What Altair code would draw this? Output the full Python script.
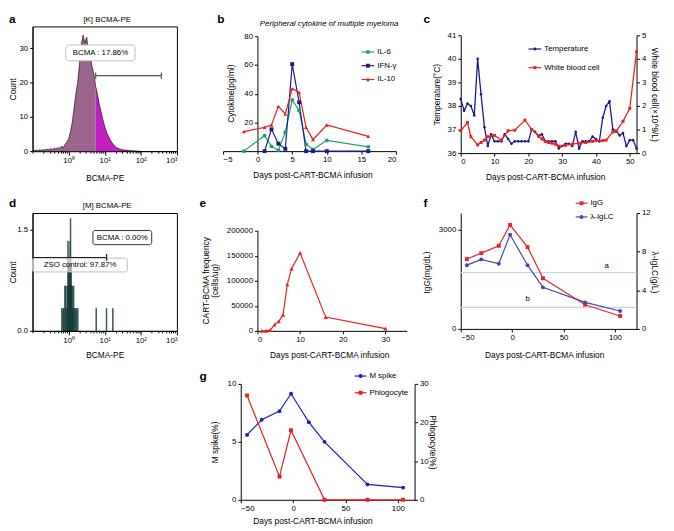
import altair as alt
import pandas as pd

FONT = "Liberation Sans"
FS = 8
TFS = 8.5

# ---------------- data ----------------
# a: [K] BCMA-PE histogram (bin centre as log10 intensity, count)
A_LOG = [-1.00, -0.95, -0.90, -0.85, -0.80, -0.75, -0.70, -0.65, -0.60, -0.55,
         -0.50, -0.45, -0.40, -0.35, -0.30, -0.25, -0.20, -0.15, -0.10, -0.05,
         0.00, 0.05, 0.10, 0.15, 0.20, 0.25, 0.30, 0.35, 0.40, 0.45,
         0.50, 0.55, 0.60, 0.65, 0.70, 0.75, 0.80, 0.85, 0.90, 0.95,
         1.00, 1.05, 1.10, 1.15, 1.20, 1.25, 1.30, 1.35, 1.40, 1.45,
         1.50, 1.55, 1.60, 1.65, 1.70, 1.75, 1.80, 1.85, 1.90, 1.95, 2.00]
A_CNT = [0.0, 0.2, 0.3, 0.1, 0.4, 0.2, 0.5, 0.3, 0.6, 0.4,
         0.7, 0.5, 0.9, 0.6, 1.0, 0.8, 1.4, 1.1, 1.9, 2.7,
         3.6, 5.6, 8.4, 12.5, 16.8, 19.9, 25.5, 31.0, 33.8, 31.5,
         33.2, 28.8, 27.2, 24.6, 22.4, 18.8, 16.5, 13.6, 11.4, 9.1,
         7.2, 5.6, 4.4, 3.3, 2.5, 1.8, 1.3, 0.9, 0.7, 0.5,
         0.4, 0.3, 0.3, 0.2, 0.2, 0.1, 0.1, 0.1, 0.0, 0.0, 0.0]
A_SPLIT_LOG = 0.75
A_GATE = [5.6, 370.0]
A_GATE_Y = 22.0

# d: [M] BCMA-PE histogram (intensity, count)
D_VAL = [0.65, 0.70, 0.74, 0.79, 0.83, 0.87, 0.91, 0.96, 0.99, 1.03,
         1.07, 1.10, 1.13, 1.17, 1.21, 1.26, 1.31, 1.38, 1.45, 1.55,
         1.65, 1.80, 5.8, 11.2, 16.8]
D_CNT = [0.333, 0.333, 0.333, 0.667, 0.667, 0.333, 0.667, 1.333, 1.0, 1.0,
         0.667, 1.333, 1.667, 1.0, 0.667, 0.667, 0.333, 0.667, 0.333, 0.333,
         0.333, 0.333, 0.333, 0.333, 0.333]
D_GATE = [0.1, 11.3]
D_GATE_Y = 1.09

# b: cytokines
B_NAMES = ["IL-6", "IFN-γ", "IL-10"]
IL6_D = [-2, 1, 2, 3, 4, 5, 6, 7, 8, 10, 16]
IL6_V = [0, 10.8, 3.3, 0.7, 13.2, 35.6, 28.3, 4.8, 1.1, 7.5, 3.0]
IFN_D = [1, 2, 3, 4, 5, 6, 7, 8, 10, 16]
IFN_V = [0, 15.2, 5.2, 1.6, 60.6, 34.0, 0, 0, 0, 0]
IL10_D = [-2, 1, 2, 3, 4, 5, 6, 7, 8, 10, 16]
IL10_V = [13.6, 16.6, 18.2, 31.2, 25.9, 43.5, 40.9, 16.6, 8.0, 18.2, 10.3]

# c: temperature and white blood cells
C_NAMES = ["Temperature", "White blood cell"]
T_DAYS = list(range(0, 53))
T_VAL = [38.3, 37.8, 38.1, 38.0, 37.6, 40.0, 38.5, 37.1, 36.3, 36.8,
         36.5, 36.5, 36.5, 36.8, 36.6, 36.4, 36.5, 36.5, 36.5, 36.5,
         36.5, 37.0, 36.9, 36.7, 36.8, 36.5, 36.5, 36.5, 36.5, 36.2,
         36.3, 36.4, 36.4, 36.3, 36.9, 36.2, 36.5, 36.5, 36.5, 36.7,
         36.6, 36.5, 37.5, 38.0, 38.2, 37.0, 36.95, 36.75, 36.85, 36.3,
         36.55, 36.55, 36.2]
W_DAYS = [0, 2, 3, 5, 6, 7, 8, 10, 12, 14, 16, 19, 21, 23, 24, 25, 26, 27, 28, 29,
          31, 33, 35, 37, 39, 40, 42, 43, 45, 46, 48, 50, 52]
W_VAL = [0.95, 1.3, 0.7, 0.35, 0.45, 0.55, 0.7, 0.75, 0.55, 0.95, 0.97, 1.4, 1.0, 0.75,
         0.6, 0.5, 0.45, 0.42, 0.38, 0.3, 0.33, 0.38, 0.42, 0.45, 0.5, 0.53, 0.53, 0.55,
         0.9, 0.92, 1.35, 1.9, 4.3]

# e: CART-BCMA frequency
E_DAYS = [1, 2, 3, 4, 5, 6, 7, 8, 10, 16, 30]
E_VAL = [0, 0, 1500, 12400, 19000, 32000, 92800, 124000, 155500, 27500, 4500]

# f: IgG and lambda light chain
F_NAMES = ["IgG", "λ-IgLC"]
F_DAYS = [-44, -30, -13, -2, 15, 30, 71, 105]
IGG = [2110, 2290, 2510, 3140, 2470, 1530, 730, 390]
LAMBDA = [6.6, 7.2, 6.75, 9.75, 6.6, 4.3, 2.75, 1.85]
F_REF = [1700, 650]
F_REF_LABELS = ["a", "b"]
F_REF_LABEL_X = [92, 15]
F_REF_LABEL_Y = [1900, 900]

# g: M spike and phlogocyte
G_NAMES = ["M spike", "Phlogocyte"]
G_DAYS = [-44, -30, -13, -2, 15, 30, 71, 105]
MSPIKE = [5.6, 6.9, 7.65, 9.15, 6.7, 5.0, 1.33, 1.05]
P_DAYS = [-44, -13, -2, 30, 71, 105]
PHLOG = [27, 6, 18, 0, 0, 0]

XTITLE = "Days post-CART-BCMA infusion"


# ---------------- helpers ----------------
def one():
    return alt.Data(values=[{"k": 0}])


def label(x, y, s, size=FS, weight="normal", style="normal", align="center",
          baseline="middle", angle=0):
    kw = dict(text=s, font=FONT, fontSize=size, fontWeight=weight, fontStyle=style,
              align=align, baseline=baseline, color="black")
    if angle:
        kw["angle"] = angle
    return alt.Chart(one()).mark_text(**kw).encode(x=alt.value(x), y=alt.value(y))


def letter(x, y, s):
    return label(x, y, s, size=12, weight="bold", align="left", baseline="alphabetic")


def legend(names, colors, shapes, x0, y0, dy, size=16, line_len=13):
    df = pd.DataFrame({"series": names, "ly": [y0 + i * dy for i in range(len(names))]})
    cs = alt.Scale(domain=names, range=colors)
    ss = alt.Scale(domain=names, range=shapes)
    y = alt.Y("ly:Q", scale=None, axis=None)
    col = alt.Color("series:N", scale=cs, legend=None)
    base = alt.Chart(df)
    rule = base.mark_rule(strokeWidth=1.2).encode(
        x=alt.value(x0), x2=alt.value(x0 + line_len), y=y, color=col)
    pt = base.mark_point(filled=True, size=size, opacity=1).encode(
        x=alt.value(x0 + line_len / 2), y=y, color=col,
        shape=alt.Shape("series:N", scale=ss, legend=None))
    tx = base.mark_text(align="left", baseline="middle", font=FONT, fontSize=FS).encode(
        x=alt.value(x0 + line_len + 3), y=y, text="series:N")
    return [rule, pt, tx]


def series_df(name, xs, ys):
    return pd.DataFrame({"day": xs, "val": ys, "series": name})


MAJOR = "datum.value == 1 || datum.value == 10 || datum.value == 100 || datum.value == 1000"
SUP = ("datum.value == 1 ? '10⁰' : datum.value == 10 ? '10¹' : "
       "datum.value == 100 ? '10²' : datum.value == 1000 ? '10³' : ''")
LOG_TICKS = [m * 10.0 ** e for e in range(-1, 3) for m in range(1, 10)] + [1000.0]


def log_axis(title, w, ty):
    return alt.Axis(values=LOG_TICKS, labelExpr=SUP, labelOverlap=False,
                    tickSize={"condition": {"test": MAJOR, "value": 4}, "value": 2},
                    title=title, titleX=w / 2, titleY=ty, titleBaseline="middle")


# ---------------- panel a ----------------
A_W, A_H = 147, 127
a_df = pd.DataFrame({"lg": A_LOG, "count": A_CNT})
xa = alt.X("v:Q", scale=alt.Scale(type="log", domain=[0.1, 1000], nice=False),
           axis=log_axis("BCMA-PE", A_W, 27))
ya = alt.Y("count:Q", scale=alt.Scale(domain=[0, 36.3], nice=False),
           axis=alt.Axis(values=[0, 10, 20, 30], title="Count", titleX=-20,
                         titleY=A_H / 2, titleBaseline="middle"))
base_a = alt.Chart(a_df).transform_calculate(v="pow(10, datum.lg)")
a_neg = base_a.transform_filter(f"datum.lg <= {A_SPLIT_LOG}").mark_area(
    color="#9a648c", opacity=1).encode(x=xa, y=ya)
a_pos = base_a.transform_filter(f"datum.lg >= {A_SPLIT_LOG}").mark_area(
    color="#c41fc4", opacity=1).encode(x=xa, y=ya)
a_out = base_a.mark_line(color="black", strokeWidth=0.6).encode(x=xa, y=ya)
a_box = alt.Chart(one()).mark_rect(fill="white", stroke="#bdbdbd", strokeWidth=1,
                                    cornerRadius=3).encode(
    x=alt.datum(0.83), x2=alt.datum(69), y=alt.datum(26.3), y2=alt.datum(30.9))
a_txt = alt.Chart(one()).mark_text(text="BCMA : 17.86%", font=FONT, fontSize=FS).encode(
    x=alt.datum(7.6), y=alt.datum(28.6))
a_gate = alt.Chart(one()).mark_rule(color="#555555", strokeWidth=1.2).encode(
    x=alt.datum(A_GATE[0]), x2=alt.datum(A_GATE[1]), y=alt.datum(A_GATE_Y))
a_t1 = alt.Chart(one()).mark_rule(color="#555555", strokeWidth=1.2).encode(
    x=alt.datum(A_GATE[0]), y=alt.datum(A_GATE_Y - 0.9), y2=alt.datum(A_GATE_Y + 0.9))
a_t2 = alt.Chart(one()).mark_rule(color="#555555", strokeWidth=1.2).encode(
    x=alt.datum(A_GATE[1]), y=alt.datum(A_GATE_Y - 0.9), y2=alt.datum(A_GATE_Y + 0.9))
panel_a = alt.layer(
    a_neg, a_pos, a_out, a_box, a_txt, a_gate, a_t1, a_t2,
    label(76, -6, "[K] BCMA-PE"), letter(-24, -3, "a"),
).properties(width=A_W, height=A_H, view=alt.ViewBackground(stroke="black", strokeWidth=1))

# ---------------- panel d ----------------
D_W, D_H = 147, 120
d_df = pd.DataFrame({"v": D_VAL, "count": D_CNT})
xd = alt.X("lo:Q", scale=alt.Scale(type="log", domain=[0.1, 1000], nice=False),
           axis=log_axis("BCMA-PE", D_W, 24))
yd = alt.Y("count:Q", scale=alt.Scale(domain=[0, 1.75], nice=False),
           axis=alt.Axis(values=[0, 0.5, 1, 1.5], title="Count", titleX=-20,
                         titleY=D_H / 2, titleBaseline="middle"))
d_bars = alt.Chart(d_df).transform_calculate(
    lo="datum.v * 0.978", hi="datum.v / 0.978").mark_rect(
    fill="#1fa0a0", stroke="#111111", strokeWidth=0.5).encode(
    x=xd, x2="hi:Q", y=yd, y2=alt.datum(0))
d_box1 = alt.Chart(one()).mark_rect(fill="white", stroke="#333333", strokeWidth=1,
                                     cornerRadius=2).encode(
    x=alt.datum(4.7), x2=alt.datum(200), y=alt.datum(1.28), y2=alt.datum(1.49))
d_txt1 = alt.Chart(one()).mark_text(text="BCMA : 0.00%", font=FONT, fontSize=FS).encode(
    x=alt.datum(30.6), y=alt.datum(1.385))
d_box2 = alt.Chart(one()).mark_rect(fill="white", fillOpacity=0.6, stroke="#bdbdbd",
                                     strokeWidth=1, cornerRadius=2).encode(
    x=alt.datum(0.1), x2=alt.datum(42), y=alt.datum(0.875), y2=alt.datum(1.08))
d_txt2 = alt.Chart(one()).mark_text(text="ZSO control: 97.87%", font=FONT, fontSize=FS).encode(
    x=alt.datum(2.07), y=alt.datum(0.975))
d_gate = alt.Chart(one()).mark_rule(color="#222222", strokeWidth=1.2).encode(
    x=alt.datum(D_GATE[0]), x2=alt.datum(D_GATE[1]), y=alt.datum(D_GATE_Y))
d_t = alt.Chart(one()).mark_rule(color="#222222", strokeWidth=1.2).encode(
    x=alt.datum(D_GATE[1]), y=alt.datum(D_GATE_Y - 0.05), y2=alt.datum(D_GATE_Y + 0.05))
panel_d = alt.layer(
    d_bars, d_box1, d_txt1, d_box2, d_txt2, d_gate, d_t,
    label(76, -7, "[M] BCMA-PE"), letter(-24, -6, "d"),
).properties(width=D_W, height=D_H, view=alt.ViewBackground(stroke="black", strokeWidth=1))

# ---------------- panel b ----------------
B_W, B_H = 176, 136
B_COLORS = ["#1f9e70", "#1c1c8c", "#e8211d"]
B_SHAPES = ["circle", "square", "triangle-up"]
b_df = pd.concat([series_df(B_NAMES[0], IL6_D, IL6_V),
                  series_df(B_NAMES[1], IFN_D, IFN_V),
                  series_df(B_NAMES[2], IL10_D, IL10_V)])
cs_b = alt.Scale(domain=B_NAMES, range=B_COLORS)
ss_b = alt.Scale(domain=B_NAMES, range=B_SHAPES)
xb = alt.X("day:Q", scale=alt.Scale(domain=[-5, 20], nice=False),
           axis=alt.Axis(values=[-5, 0, 5, 10, 15, 20], title=XTITLE, offset=-9,
                         titleX=91, titleY=24, titleBaseline="middle"))
yb = alt.Y("val:Q", scale=alt.Scale(domain=[0, 80], range=[127, 10], nice=False),
           axis=alt.Axis(values=[20, 40, 60, 80], title="Cytokine(pg/ml)", offset=-35,
                         titleX=-27, titleY=68, titleBaseline="middle"))
b_lines = alt.Chart(b_df).mark_line(strokeWidth=1.2).encode(
    x=xb, y=yb, color=alt.Color("series:N", scale=cs_b, legend=None), detail="series:N")
b_pts = alt.Chart(b_df).mark_point(filled=True, size=16, opacity=1).encode(
    x=xb, y=yb, color=alt.Color("series:N", scale=cs_b, legend=None),
    shape=alt.Shape("series:N", scale=ss_b, legend=None))
panel_b = alt.layer(
    b_lines, b_pts, *legend(B_NAMES, B_COLORS, B_SHAPES, 141, 26, 14),
    label(108, -2, "Peripheral cytokine of multiple myeloma", style="italic"),
    letter(-6, -3, "b"),
).properties(width=B_W, height=B_H)

# ---------------- panel c ----------------
C_W, C_H = 179, 129
C_COLORS = ["#1a1a8c", "#e8211d"]
C_SHAPES = ["circle", "square"]
cs_c = alt.Scale(domain=C_NAMES, range=C_COLORS)
ss_c = alt.Scale(domain=C_NAMES, range=C_SHAPES)
t_df = series_df(C_NAMES[0], T_DAYS, T_VAL)
w_df = series_df(C_NAMES[1], W_DAYS, W_VAL)
xc = alt.X("day:Q", scale=alt.Scale(domain=[0, 52], nice=False),
           axis=alt.Axis(values=[0, 10, 20, 30, 40, 50], title=XTITLE,
                         titleX=86, titleY=24, titleBaseline="middle"))
yt = alt.Y("val:Q", scale=alt.Scale(domain=[36, 41], range=[129, 9], nice=False),
           axis=alt.Axis(orient="left", values=[36, 37, 38, 39, 40, 41],
                         title="Temperature(°C)", titleX=-25, titleY=69,
                         titleBaseline="middle"))
yw = alt.Y("val:Q", scale=alt.Scale(domain=[0, 5], range=[129, 9], nice=False),
           axis=alt.Axis(orient="right", values=[0, 1, 2, 3, 4, 5],
                         title="White blood cell(×10^9/L)", titleAngle=90, titleX=18,
                         titleY=69, titleBaseline="middle"))
col_c = alt.Color("series:N", scale=cs_c, legend=None)
shp_c = alt.Shape("series:N", scale=ss_c, legend=None)
c_t = alt.layer(
    alt.Chart(t_df).mark_line(strokeWidth=1.3).encode(x=xc, y=yt, color=col_c),
    alt.Chart(t_df).mark_point(filled=True, size=7, opacity=1).encode(
        x=xc, y=yt, color=col_c, shape=shp_c),
)
c_w = alt.layer(
    alt.Chart(w_df).mark_line(strokeWidth=1.3).encode(x=xc, y=yw, color=col_c),
    alt.Chart(w_df).mark_point(filled=True, size=9, opacity=1).encode(
        x=xc, y=yw, color=col_c, shape=shp_c),
)
panel_c = alt.layer(
    c_t, c_w, *legend(C_NAMES, C_COLORS, C_SHAPES, 69, 23, 19, size=9),
    letter(-38, -3, "c"),
).resolve_scale(y="independent").properties(width=C_W, height=C_H)

# ---------------- panel e ----------------
E_W, E_H = 187, 120
e_df = pd.DataFrame({"day": E_DAYS, "val": E_VAL})
xe = alt.X("day:Q", scale=alt.Scale(domain=[0, 35], range=[35, 187], nice=False),
           axis=alt.Axis(values=[0, 10, 20, 30], title=XTITLE, titleX=108, titleY=24,
                         titleBaseline="middle"))
ye = alt.Y("val:Q", scale=alt.Scale(domain=[0, 200000], range=[120, 18], nice=False),
           axis=alt.Axis(values=[0, 50000, 100000, 150000, 200000], format="d",
                         title=None, offset=-35))
panel_e = alt.layer(
    alt.Chart(e_df).mark_line(color="#e8211d", strokeWidth=1.2).encode(x=xe, y=ye),
    alt.Chart(e_df).mark_point(filled=True, size=18, opacity=1, shape="triangle-up",
                               color="#e8211d").encode(x=xe, y=ye),
    label(-17, 69, "CART-BCMA frequency", size=TFS, angle=270),
    label(-8, 69, "(cells/ug)", size=TFS, angle=270),
    letter(-24, -6, "e"),
).properties(width=E_W, height=E_H)

# ---------------- panel f ----------------
F_W, F_H = 179, 118
F_COLORS = ["#e8262b", "#4646a8"]
F_SHAPES = ["square", "circle"]
cs_f = alt.Scale(domain=F_NAMES, range=F_COLORS)
ss_f = alt.Scale(domain=F_NAMES, range=F_SHAPES)
col_f = alt.Color("series:N", scale=cs_f, legend=None)
shp_f = alt.Shape("series:N", scale=ss_f, legend=None)
igg_df = series_df(F_NAMES[0], F_DAYS, IGG)
lam_df = series_df(F_NAMES[1], F_DAYS, LAMBDA)
ref_df = pd.DataFrame({"ref": F_REF})
reflab_df = pd.DataFrame({"day": F_REF_LABEL_X, "val": F_REF_LABEL_Y, "t": F_REF_LABELS})
xf = alt.X("day:Q", scale=alt.Scale(domain=[-50, 121], nice=False),
           axis=alt.Axis(values=[-50, 0, 50, 100], title=XTITLE, titleX=85, titleY=26,
                         titleBaseline="middle"))
yf = alt.Y("val:Q", scale=alt.Scale(domain=[0, 3500], nice=False),
           axis=alt.Axis(orient="left", values=[0, 1000, 2000, 3000], format="d",
                         title="IgG(mg/dL)", titleX=-35, titleY=60, titleBaseline="middle"))
yl = alt.Y("val:Q", scale=alt.Scale(domain=[0, 12], nice=False),
           axis=alt.Axis(orient="right", values=[0, 4, 8, 12], title="λ-IgLC(g/L)",
                         titleAngle=90, titleX=18, titleY=60, titleBaseline="middle"))
f_igg = alt.layer(
    alt.Chart(ref_df).mark_rule(color="#c9d5e3", strokeWidth=1.2).encode(
        y=alt.Y("ref:Q", scale=alt.Scale(domain=[0, 3500], nice=False))),
    alt.Chart(reflab_df).mark_text(font=FONT, fontSize=FS).encode(x=xf, y=yf, text="t:N"),
    alt.Chart(igg_df).mark_line(strokeWidth=1.2).encode(x=xf, y=yf, color=col_f),
    alt.Chart(igg_df).mark_point(filled=True, size=16, opacity=1).encode(
        x=xf, y=yf, color=col_f, shape=shp_f),
)
f_lam = alt.layer(
    alt.Chart(lam_df).mark_line(strokeWidth=1.2).encode(x=xf, y=yl, color=col_f),
    alt.Chart(lam_df).mark_point(filled=True, size=16, opacity=1).encode(
        x=xf, y=yl, color=col_f, shape=shp_f),
)
panel_f = alt.layer(
    f_igg, f_lam, *legend(F_NAMES, F_COLORS, F_SHAPES, 117, -10, 14, line_len=12),
    letter(-38, -6, "f"),
).resolve_scale(y="independent").properties(width=F_W, height=F_H)

# ---------------- panel g ----------------
G_W, G_H = 195, 118
G_COLORS = ["#1c1cc8", "#ee1c1c"]
G_SHAPES = ["circle", "square"]
cs_g = alt.Scale(domain=G_NAMES, range=G_COLORS)
ss_g = alt.Scale(domain=G_NAMES, range=G_SHAPES)
col_g = alt.Color("series:N", scale=cs_g, legend=None)
shp_g = alt.Shape("series:N", scale=ss_g, legend=None)
m_df = series_df(G_NAMES[0], G_DAYS, MSPIKE)
p_df = series_df(G_NAMES[1], P_DAYS, PHLOG)
xg = alt.X("day:Q", scale=alt.Scale(domain=[-50, 116], range=[18, 195], nice=False),
           axis=alt.Axis(values=[-50, 0, 50, 100], title=XTITLE, titleX=91, titleY=21,
                         titleBaseline="middle"))
ym = alt.Y("val:Q", scale=alt.Scale(domain=[0, 10], nice=False),
           axis=alt.Axis(orient="left", values=[0, 5, 10], title="M spike(%)", offset=-18,
                         titleX=-27, titleY=59, titleBaseline="middle"))
yp = alt.Y("val:Q", scale=alt.Scale(domain=[0, 30], nice=False),
           axis=alt.Axis(orient="right", values=[0, 10, 20, 30], title="Phlogocyte(%)",
                         titleAngle=90, titleX=18, titleY=59, titleBaseline="middle"))
g_m = alt.layer(
    alt.Chart(m_df).mark_line(strokeWidth=1.2).encode(x=xg, y=ym, color=col_g),
    alt.Chart(m_df).mark_point(filled=True, size=16, opacity=1).encode(
        x=xg, y=ym, color=col_g, shape=shp_g),
)
g_p = alt.layer(
    alt.Chart(p_df).mark_line(strokeWidth=1.2).encode(x=xg, y=yp, color=col_g),
    alt.Chart(p_df).mark_point(filled=True, size=16, opacity=1).encode(
        x=xg, y=yp, color=col_g, shape=shp_g),
)
panel_g = alt.layer(
    g_m, g_p, *legend(G_NAMES, G_COLORS, G_SHAPES, 134, -8, 17, line_len=12),
    letter(-24, -4, "g"),
).resolve_scale(y="independent").properties(width=G_W, height=G_H)

spacer = alt.Chart(one()).mark_point(opacity=0).encode(
    x=alt.value(0), y=alt.value(0)).properties(width=147, height=118)

chart = alt.concat(
    panel_a, panel_b, panel_c, panel_d, panel_e, panel_f, spacer, panel_g,
    columns=3, spacing={"row": 54, "column": 47}, bounds="flush", align="each",
).resolve_scale(color="independent", shape="independent").properties(
    padding={"left": 0, "top": 0, "right": 8, "bottom": 0}
).configure(font=FONT).configure_view(stroke=None).configure_axis(
    grid=False, domainColor="black", tickColor="black", labelColor="black",
    titleColor="black", labelFont=FONT, titleFont=FONT, labelFontSize=FS,
    titleFontSize=TFS, titleFontWeight="normal", tickSize=3, labelPadding=2,
    domainWidth=1, tickWidth=1,
)

chart.save("out.html", embed_options={"renderer": "svg", "actions": False})
